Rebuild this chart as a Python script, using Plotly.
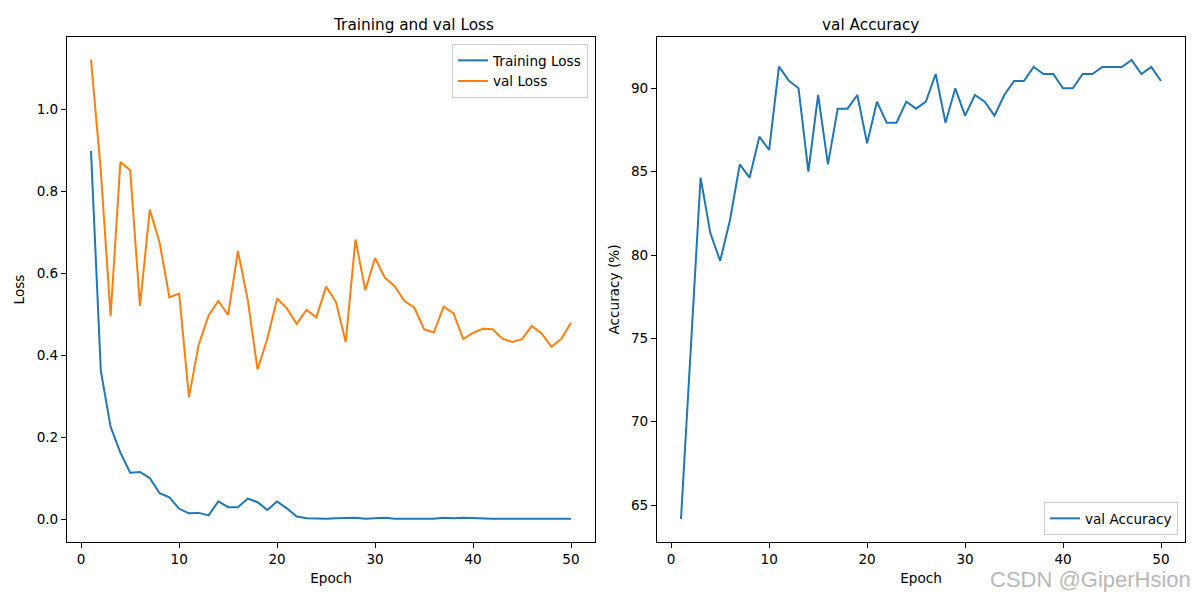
import plotly.graph_objects as go

epochs = list(range(1, 51))

train_loss = [0.898, 0.362, 0.225, 0.162, 0.113, 0.115, 0.100, 0.063, 0.053, 0.025,
              0.014, 0.015, 0.009, 0.043, 0.029, 0.029, 0.050, 0.041, 0.022, 0.043,
              0.026, 0.006, 0.002, 0.001, 0.001, 0.002, 0.003, 0.003, 0.001, 0.002,
              0.003, 0.001, 0.001, 0.001, 0.001, 0.001, 0.003, 0.002, 0.003, 0.002,
              0.001, 0.001, 0.001, 0.001, 0.001, 0.001, 0.001, 0.001, 0.001, 0.001]

val_loss = [1.121, 0.850, 0.495, 0.871, 0.851, 0.520, 0.755, 0.675, 0.541, 0.550,
            0.297, 0.426, 0.496, 0.532, 0.498, 0.654, 0.535, 0.365, 0.440, 0.538,
            0.514, 0.476, 0.510, 0.492, 0.567, 0.530, 0.432, 0.682, 0.558, 0.637,
            0.589, 0.568, 0.532, 0.516, 0.463, 0.455, 0.518, 0.502, 0.439, 0.454,
            0.464, 0.463, 0.440, 0.432, 0.439, 0.471, 0.453, 0.420, 0.439, 0.479]

val_acc = [64.16, 74.5, 84.64, 81.3, 79.65, 82.1, 85.44, 84.64, 87.1, 86.3,
           91.3, 90.46, 90.0, 85.0, 89.6, 85.44, 88.78, 88.78, 89.6, 86.7,
           89.2, 87.94, 87.94, 89.2, 88.78, 89.2, 90.86, 87.94, 90.0, 88.36,
           89.6, 89.2, 88.36, 89.6, 90.44, 90.44, 91.28, 90.86, 90.86, 90.0,
           90.0, 90.86, 90.86, 91.28, 91.28, 91.28, 91.7, 90.86, 91.28, 90.44]

BLUE = "#1f77b4"
ORANGE = "#ff7f0e"
FONT = "DejaVu Sans"
FS = 13.6

fig = go.Figure()
fig.add_trace(go.Scatter(x=epochs, y=train_loss, mode="lines", name="Training Loss",
                         line=dict(color=BLUE, width=2), xaxis="x", yaxis="y", legend="legend"))
fig.add_trace(go.Scatter(x=epochs, y=val_loss, mode="lines", name="val Loss",
                         line=dict(color=ORANGE, width=2), xaxis="x", yaxis="y", legend="legend"))
fig.add_trace(go.Scatter(x=epochs, y=val_acc, mode="lines", name="val Accuracy",
                         line=dict(color=BLUE, width=2), xaxis="x2", yaxis="y2", legend="legend2"))

ax_common = dict(showline=True, linecolor="black", linewidth=1, mirror=True,
                 ticks="outside", ticklen=5, tickwidth=1, tickcolor="black",
                 showgrid=False, zeroline=False,
                 tickfont=dict(family=FONT, size=FS, color="black"))

# page body has an 8px margin, so the figure is 8px smaller and margins shifted
OFF = 8
W, H = 1200 - OFF, 600 - OFF
L, R, T, B = 67 - OFF, 15, 37 - OFF, 58
pw = W - L - R
ph = H - T - B
d1 = [0, (595 - 67) / pw]
d2 = [(657 - 67) / pw, 1]

fig.update_layout(
    width=W, height=H,
    margin=dict(l=L, r=R, t=T, b=B),
    paper_bgcolor="white", plot_bgcolor="white",
    font=dict(family=FONT, size=FS, color="black"),
    xaxis=dict(domain=d1, range=[-1.45, 52.45], tickvals=[0, 10, 20, 30, 40, 50],
               title=dict(text="Epoch", font=dict(family=FONT, size=FS), standoff=7), **ax_common),
    yaxis=dict(domain=[0, 1], range=[-0.056, 1.176], tickvals=[0.0, 0.2, 0.4, 0.6, 0.8, 1.0],
               tickformat=".1f",
               title=dict(text="Loss", font=dict(family=FONT, size=FS), standoff=8), **ax_common),
    xaxis2=dict(domain=d2, anchor="y2", range=[-1.45, 52.45], tickvals=[0, 10, 20, 30, 40, 50],
                title=dict(text="Epoch", font=dict(family=FONT, size=FS), standoff=7), **ax_common),
    yaxis2=dict(domain=[0, 1], anchor="x2", range=[62.78, 93.08], tickvals=[65, 70, 75, 80, 85, 90],
                title=dict(text="Accuracy (%)", font=dict(family=FONT, size=FS), standoff=8), **ax_common),
    legend=dict(x=(588 - 67) / pw, y=1 - (44 - 37) / ph, xanchor="right", yanchor="top",
                bgcolor="rgba(255,255,255,0.8)", bordercolor="#cccccc", borderwidth=1,
                tracegroupgap=0, font=dict(family=FONT, size=FS)),
    legend2=dict(x=(1178 - 67) / pw, y=(542 - 535) / ph, xanchor="right", yanchor="bottom",
                 bgcolor="rgba(255,255,255,0.8)", bordercolor="#cccccc", borderwidth=1,
                 font=dict(family=FONT, size=FS)),
    showlegend=True,
    annotations=[
        dict(text="Training and val Loss", xref="paper", yref="paper",
             x=(d1[0] + d1[1]) / 2, y=1, yanchor="bottom", yshift=1, showarrow=False,
             font=dict(family=FONT, size=15.3, color="black")),
        dict(text="val Accuracy", xref="paper", yref="paper",
             x=(d2[0] + d2[1]) / 2, y=1, yanchor="bottom", yshift=1, showarrow=False,
             font=dict(family=FONT, size=15.3, color="black")),
        dict(text="CSDN @GiperHsion", xref="paper", yref="paper",
             x=(1193 - 67) / pw, y=-(594 - 542) / ph, xanchor="right", yanchor="bottom",
             showarrow=False,
             font=dict(family="Liberation Sans", size=22, color="rgba(165,165,165,0.8)")),
    ],
)

fig.write_html("out.html")
